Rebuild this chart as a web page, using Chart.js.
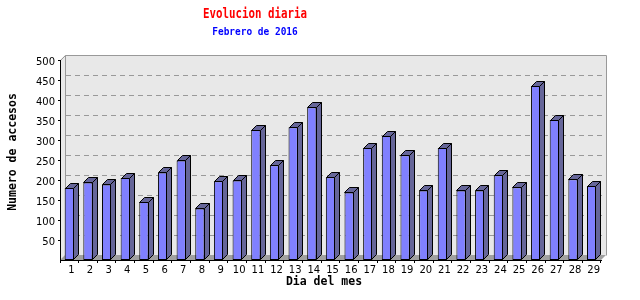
<!DOCTYPE html>
<html>
<head>
<meta charset="utf-8">
<script src="https://cdn.jsdelivr.net/npm/chart.js@4/dist/chart.umd.min.js"></script>
<style>
  html, body { margin: 0; padding: 0; background: #ffffff; }
  #wrap { width: 640px; height: 300px; position: relative; }
</style>
</head>
<body>
<div id="wrap"><canvas id="c" width="640" height="300"></canvas></div>
<script>
// ---- data ----
const days = ['1','2','3','4','5','6','7','8','9','10','11','12','13','14','15','16','17','18','19','20','21','22','23','24','25','26','27','28','29'];
const accesos = [180,194,189,205,145,219,249,129,197,199,325,237,332,382,207,169,280,310,262,174,280,174,174,212,182,435,350,202,185];
const yTickValues = [50,100,150,200,250,300,350,400,450,500];
const titleText = 'Evolucion diaria';
const subtitleText = 'Febrero de 2016';
const yTitleText = 'Numero de accesos';
const xTitleText = 'Dia del mes';

// ---- styling ----
const D = 5; // 3D depth
const FRONT = '#8080ff';
const SIDE = '#666699';
const WALL = '#e8e8e8';
const FLOOR = '#a0a0a0';
const EDGE = '#999999';

function drawText(ctx, text, x, y, font, color, sx, rot) {
  ctx.save();
  ctx.translate(x, y);
  if (rot) ctx.rotate(rot);
  ctx.scale(sx, 1);
  ctx.font = font;
  ctx.fillStyle = color;
  ctx.textAlign = 'center';
  ctx.textBaseline = 'middle';
  ctx.fillText(text, 0, 0);
  ctx.restore();
}

const threeD = {
  id: 'threeD',
  beforeDraw(chart) {
    const ctx = chart.ctx;
    const a = chart.chartArea;
    const ys = chart.scales.y;
    ctx.save();
    // back wall
    ctx.fillStyle = WALL;
    ctx.fillRect(a.left + D, a.top - D, a.right - a.left, a.bottom - a.top);
    // left wall
    ctx.beginPath();
    ctx.moveTo(a.left, a.top);
    ctx.lineTo(a.left + D, a.top - D);
    ctx.lineTo(a.left + D, a.bottom - D);
    ctx.lineTo(a.left, a.bottom);
    ctx.closePath();
    ctx.fill();
    // floor
    ctx.fillStyle = FLOOR;
    ctx.beginPath();
    ctx.moveTo(a.left, a.bottom);
    ctx.lineTo(a.right, a.bottom);
    ctx.lineTo(a.right + D, a.bottom - D);
    ctx.lineTo(a.left + D, a.bottom - D);
    ctx.closePath();
    ctx.fill();
    // wall outline
    ctx.strokeStyle = EDGE;
    ctx.lineWidth = 1;
    ctx.beginPath();
    ctx.moveTo(a.left + 0.5, a.top + 0.5);
    ctx.lineTo(a.left + D + 0.5, a.top - D + 0.5);
    ctx.lineTo(a.right + D + 0.5, a.top - D + 0.5);
    ctx.lineTo(a.right + D + 0.5, a.bottom - D + 0.5);
    ctx.moveTo(a.left + D + 0.5, a.top - D + 0.5);
    ctx.lineTo(a.left + D + 0.5, a.bottom - D + 0.5);
    ctx.stroke();
    // dashed grid lines on back wall
    ctx.setLineDash([5, 4]);
    ctx.beginPath();
    yTickValues.forEach(v => {
      if (v >= ys.max) return;
      const y = Math.round(ys.getPixelForValue(v)) - D + 0.5;
      ctx.moveTo(a.left + D + 1, y);
      ctx.lineTo(a.right + D, y);
    });
    ctx.stroke();
    ctx.restore();
  },
  afterDatasetsDraw(chart) {
    const ctx = chart.ctx;
    const meta = chart.getDatasetMeta(0);
    ctx.save();
    ctx.fillStyle = SIDE;
    ctx.strokeStyle = '#000000';
    ctx.lineWidth = 1;
    ctx.lineJoin = 'miter';
    meta.data.forEach(bar => {
      const p = bar.getProps(['x', 'y', 'base', 'width'], true);
      const L = Math.round(p.x - p.width / 2) + 0.5;
      const R = Math.round(p.x + p.width / 2) - 0.5;
      const T = Math.round(p.y) + 0.5;
      const B = Math.round(p.base) - 0.5;
      // top
      ctx.beginPath();
      ctx.moveTo(L, T);
      ctx.lineTo(L + D, T - D);
      ctx.lineTo(R + D, T - D);
      ctx.lineTo(R, T);
      ctx.closePath();
      ctx.fill();
      ctx.stroke();
      // side
      ctx.beginPath();
      ctx.moveTo(R, T);
      ctx.lineTo(R + D, T - D);
      ctx.lineTo(R + D, B - D);
      ctx.lineTo(R, B);
      ctx.closePath();
      ctx.fill();
      ctx.stroke();
    });
    ctx.restore();
  },
  afterDraw(chart) {
    const ctx = chart.ctx;
    drawText(ctx, titleText, 255, 14, 'bold 14px "DejaVu Sans Mono"', '#ff0000', 0.77, 0);
    drawText(ctx, subtitleText, 255, 32, 'bold 11px "DejaVu Sans Mono"', '#0000ff', 0.86, 0);
    drawText(ctx, yTitleText, 13, 152, 'bold 11.5px "DejaVu Sans Mono"', '#000000', 1, -Math.PI / 2);
    drawText(ctx, xTitleText, 324, 282, 'bold 11.5px "DejaVu Sans Mono"', '#000000', 1, 0);
  }
};

new Chart(document.getElementById('c'), {
  type: 'bar',
  data: {
    labels: days,
    datasets: [{
      data: accesos,
      backgroundColor: FRONT,
      borderColor: '#000000',
      borderWidth: 1,
      borderSkipped: false,
      barPercentage: 0.5,
      categoryPercentage: 1.0
    }]
  },
  options: {
    responsive: false,
    animation: false,
    devicePixelRatio: 1,
    layout: { padding: { top: 60, right: 39, left: 0, bottom: 0 } },
    plugins: { legend: { display: false }, title: { display: false }, tooltip: { enabled: false } },
    scales: {
      x: {
        afterFit: s => { s.height = 40; },
        grid: { offset: true, drawOnChartArea: false, drawTicks: true, tickLength: 3, color: '#000000' },
        border: { display: true, color: '#000000' },
        ticks: { font: { family: 'DejaVu Sans', size: 10 }, color: '#000000', padding: 1, labelOffset: 2, maxRotation: 0, autoSkip: false }
      },
      y: {
        min: 0,
        max: 500,
        afterFit: s => { s.width = 60; },
        afterBuildTicks: s => { s.ticks = yTickValues.map(v => ({ value: v })); },
        grid: { drawOnChartArea: false, drawTicks: true, tickLength: 2, color: '#000000' },
        border: { display: true, color: '#000000' },
        ticks: { font: { family: 'DejaVu Sans', size: 10 }, color: '#000000', padding: 3, labelOffset: 2 }
      }
    }
  },
  plugins: [threeD]
});
</script>
</body>
</html>
